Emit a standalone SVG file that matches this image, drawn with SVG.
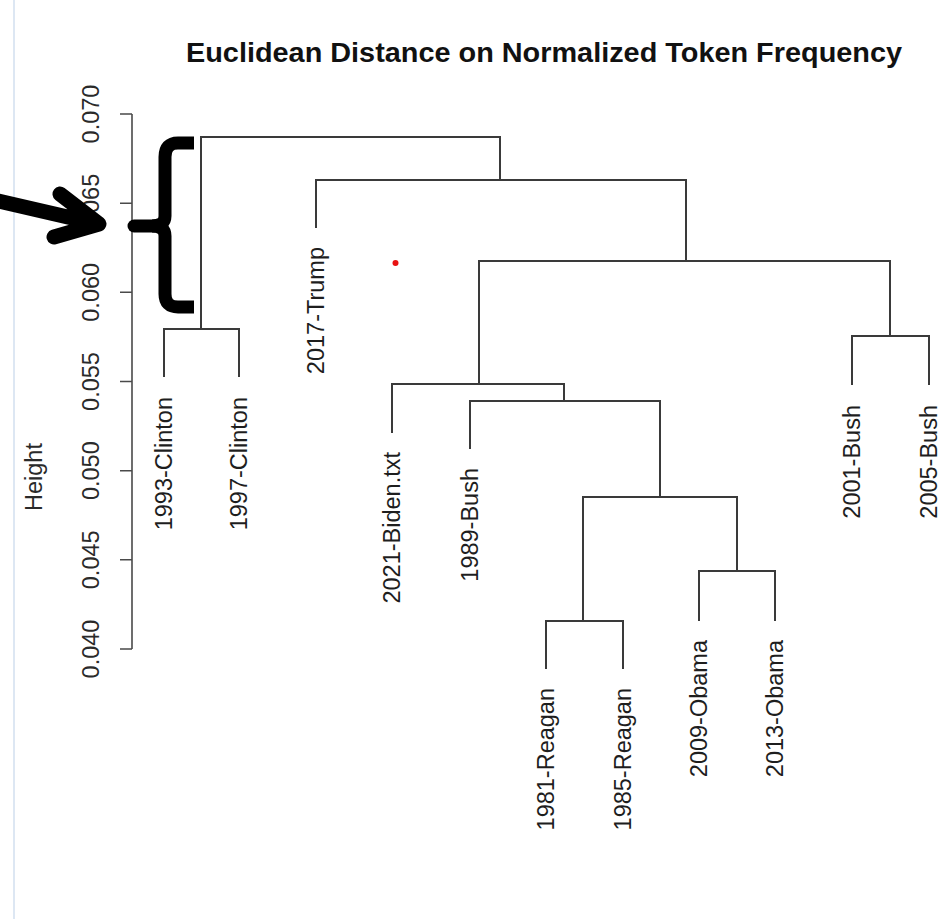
<svg xmlns="http://www.w3.org/2000/svg" width="951" height="919" viewBox="0 0 951 919">
<style>
.lbl{font-family:"Liberation Sans",Arial,sans-serif;font-size:23.5px;fill:#1e1e1e}
.tick{font-family:"Liberation Sans",Arial,sans-serif;font-size:23.5px;fill:#2a2a2a;text-anchor:middle}
.tree{fill:none;stroke:#3a3a3a;stroke-width:2}
.axis{fill:none;stroke:#4a4a4a;stroke-width:1.6}
.ink{fill:none;stroke:#000;stroke-width:13}
</style>
<rect width="951" height="919" fill="#fff"/>
<line x1="14" y1="0" x2="14" y2="919" stroke="#dde7f3" stroke-width="2"/>
<text x="186" y="62" font-family="'Liberation Sans',Arial,sans-serif" font-size="28" font-weight="bold" fill="#111" textLength="716" lengthAdjust="spacingAndGlyphs">Euclidean Distance on Normalized Token Frequency</text>
<g id="axis">
<path class="axis" d="M132,114 V649 M120,114 H132 M120,203.2 H132 M120,292.3 H132 M120,381.5 H132 M120,470.7 H132 M120,559.8 H132 M120,649 H132"/>
<text class="tick" transform="translate(99,114) rotate(-90)">0.070</text>
<text class="tick" transform="translate(99,203.2) rotate(-90)">0.065</text>
<text class="tick" transform="translate(99,292.3) rotate(-90)">0.060</text>
<text class="tick" transform="translate(99,381.5) rotate(-90)">0.055</text>
<text class="tick" transform="translate(99,470.7) rotate(-90)">0.050</text>
<text class="tick" transform="translate(99,559.8) rotate(-90)">0.045</text>
<text class="tick" transform="translate(99,649) rotate(-90)">0.040</text>
<text class="tick" transform="translate(42,477) rotate(-90)">Height</text>
</g>
<g id="connectors">
<path class="tree" d="M164,377 V329 H239 V377"/>
<path class="tree" d="M201,329 V137 H500 V180"/>
<path class="tree" d="M316,228 V180 H686 V261"/>
<path class="tree" d="M479,384 V261 H890 V336"/>
<path class="tree" d="M392,433 V384 H564 V401"/>
<path class="tree" d="M470,449 V401 H660 V497"/>
<path class="tree" d="M583,621 V497 H737 V571"/>
<path class="tree" d="M546,669 V621 H623 V669"/>
<path class="tree" d="M699,621 V571 H775 V621"/>
<path class="tree" d="M852,385 V336 H929 V385"/>
</g>
<g id="leaf-1993-Clinton"><text class="lbl" text-anchor="end" transform="translate(172,397) rotate(-90)">1993-Clinton</text></g>
<g id="leaf-1997-Clinton"><text class="lbl" text-anchor="end" transform="translate(247,397) rotate(-90)">1997-Clinton</text></g>
<g id="leaf-2017-Trump"><text class="lbl" text-anchor="end" transform="translate(324,247) rotate(-90)">2017-Trump</text></g>
<g id="leaf-2021-Biden"><text class="lbl" text-anchor="end" transform="translate(400,452) rotate(-90)">2021-Biden.txt</text></g>
<g id="leaf-1989-Bush"><text class="lbl" text-anchor="end" transform="translate(478,468) rotate(-90)">1989-Bush</text></g>
<g id="leaf-1981-Reagan"><text class="lbl" text-anchor="end" transform="translate(554,688) rotate(-90)">1981-Reagan</text></g>
<g id="leaf-1985-Reagan"><text class="lbl" text-anchor="end" transform="translate(631,688) rotate(-90)">1985-Reagan</text></g>
<g id="leaf-2009-Obama"><text class="lbl" text-anchor="end" transform="translate(707,640) rotate(-90)">2009-Obama</text></g>
<g id="leaf-2013-Obama"><text class="lbl" text-anchor="end" transform="translate(783,640) rotate(-90)">2013-Obama</text></g>
<g id="leaf-2001-Bush"><text class="lbl" text-anchor="end" transform="translate(860,405) rotate(-90)">2001-Bush</text></g>
<g id="leaf-2005-Bush"><text class="lbl" text-anchor="end" transform="translate(937,405) rotate(-90)">2005-Bush</text></g>
<circle cx="395.5" cy="263" r="3" fill="#e81212"/>
<g id="annotation">
<path class="ink" d="M194,143 H178 Q165,143 165,157 V216 Q165,226 152,226 M152,226 Q165,226 165,236 V294 Q165,307 178,307 H194"/>
<line x1="134" y1="226" x2="158" y2="226" stroke="#000" stroke-width="13" stroke-linecap="round"/>
<path d="M-6,200 L98,224 M60,194 L99,224 L54,237" fill="none" stroke="#000" stroke-width="15" stroke-linecap="round" stroke-linejoin="round"/>
</g>
</svg>
